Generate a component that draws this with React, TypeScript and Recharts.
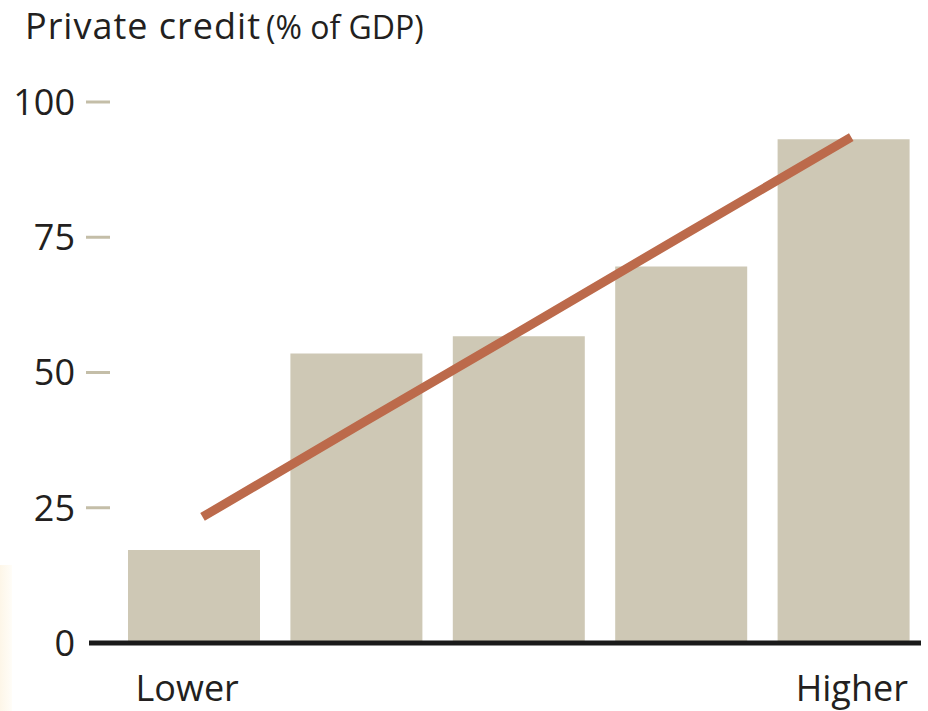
import React from "react";
import { ComposedChart, Bar, Line, XAxis, YAxis } from "recharts";

const quintiles = ["Q1", "Q2", "Q3", "Q4", "Q5"];
const quintileRank = [1, 2, 3, 4, 5];
const tickLabels = ["Lower", "", "", "", "Higher"];
const privateCredit = [17.2, 53.5, 56.7, 69.6, 93.1];
const trendLine = [23.3, 40.9, 58.4, 76.0, 93.5];
const yTicks = [0, 25, 50, 75, 100];

const FONT = "'Open Sans', sans-serif";
const INK = "#231f20";
// the end labels sit a little outside their bar centres in the original
const labelShift = [-7, 0, 0, 0, 8];

const data = quintiles.map((q, i) => ({
  q,
  rank: quintileRank[i],
  credit: privateCredit[i],
  trend: trendLine[i],
}));

const YTick = (props: any) => {
  const { x, y, payload } = props;
  return (
    <g>
      <text
        x={x - 14}
        y={y}
        dy="0.36em"
        textAnchor="end"
        fontFamily={FONT}
        fontSize={36}
        fill={INK}
      >
        {payload.value}
      </text>
      {payload.value !== 0 && (
        <line x1={x - 3} x2={x + 21} y1={y} y2={y} stroke="#c4bea8" strokeWidth={3} />
      )}
    </g>
  );
};

const XTick = (props: any) => {
  const { x, y, index } = props;
  return (
    <text
      x={x + labelShift[index]}
      y={y + 58}
      textAnchor="middle"
      fontFamily={FONT}
      fontSize={36}
      fill={INK}
    >
      {tickLabels[index]}
    </text>
  );
};

export default function App() {
  return (
    <div style={{ position: "absolute", left: 0, top: 0, width: 928, height: 711, background: "#fff" }}>
      <div
        style={{
          position: "absolute",
          left: 0,
          top: 565,
          width: 12,
          height: 146,
          background: "linear-gradient(to right, #fdf6e8, #fffdf8)",
        }}
      />
      <svg width={928} height={70} style={{ position: "absolute", left: 0, top: 0 }}>
        <text x={25} y={39} fontFamily={FONT} fill={INK}>
          <tspan fontSize={36} letterSpacing={1}>Private credit</tspan>
          <tspan fontSize={32} dx={5}>(% of GDP)</tspan>
        </text>
      </svg>
      <div style={{ position: "absolute", left: 0, top: 0 }}>
        <ComposedChart
          width={928}
          height={711}
          data={data}
          margin={{ top: 102, right: 7, bottom: 0, left: 0 }}
        >
          <XAxis
            xAxisId="cat"
            dataKey="q"
            height={68}
            padding={{ left: 24, right: -4 }}
            axisLine={{ stroke: "#1a1a1a", strokeWidth: 5 }}
            tickLine={false}
            tickSize={0}
            tickMargin={0}
            interval={0}
            tick={<XTick />}
          />
          <XAxis
            xAxisId="trend"
            dataKey="rank"
            type="number"
            domain={[0.3, 5.43]}
            allowDataOverflow
            hide
          />
          <YAxis
            domain={[0, 100]}
            ticks={yTicks}
            width={89}
            axisLine={false}
            tickLine={false}
            tickSize={0}
            tickMargin={0}
            tick={<YTick />}
          />
          <Bar xAxisId="cat" dataKey="credit" fill="#cec8b5" barSize={132} isAnimationActive={false} />
          <Line
            xAxisId="trend"
            dataKey="trend"
            stroke="#bc6a4b"
            strokeWidth={9}
            strokeLinecap="butt"
            dot={false}
            activeDot={false}
            isAnimationActive={false}
          />
        </ComposedChart>
      </div>
    </div>
  );
}
